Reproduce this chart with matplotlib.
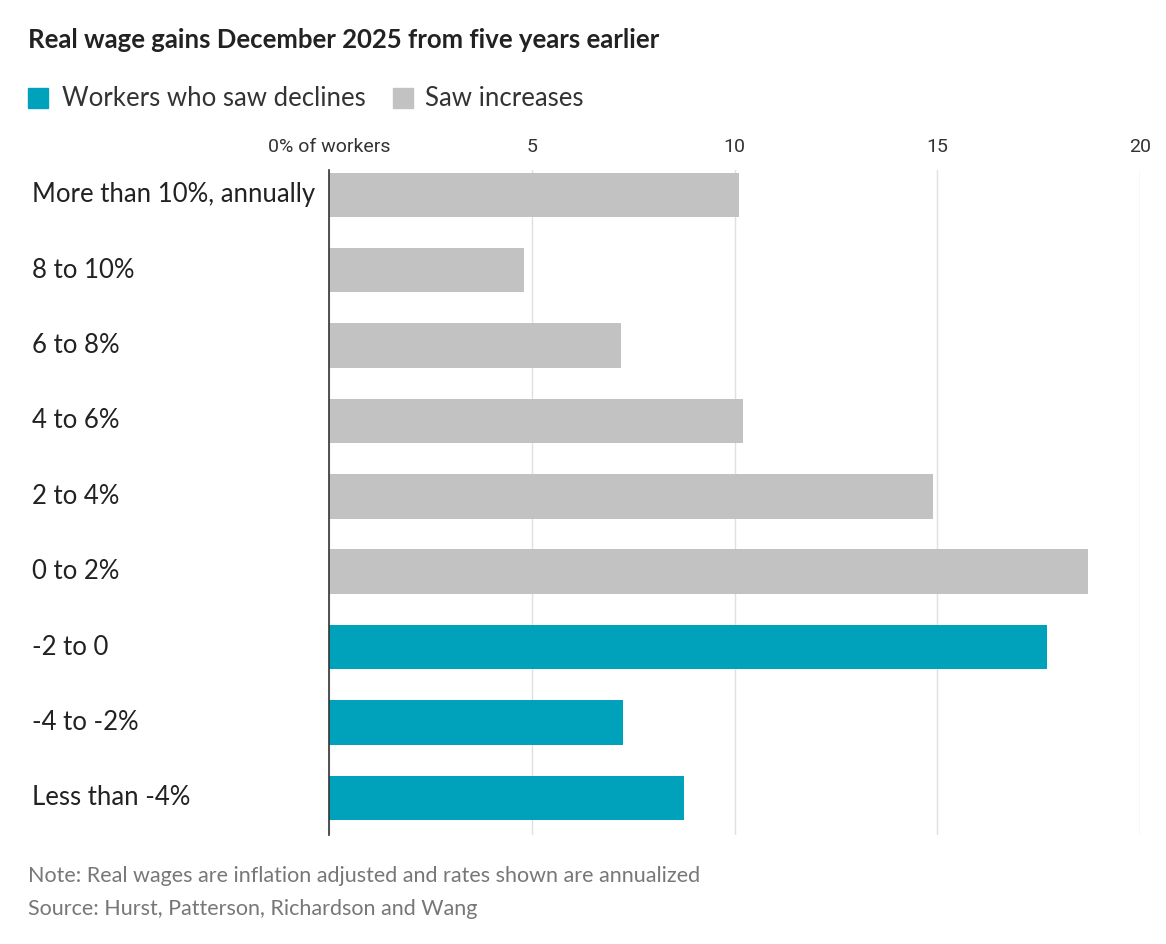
import matplotlib.pyplot as plt
from matplotlib.patches import Rectangle

categories = ["More than 10%, annually", "8 to 10%", "6 to 8%", "4 to 6%", "2 to 4%",
              "0 to 2%", "-2 to 0", "-4 to -2%", "Less than -4%"]
values = [10.1, 4.8, 7.2, 10.2, 14.9, 18.7, 17.7, 7.25, 8.75]
is_decline = [False] * 6 + [True] * 3
tick_vals = [0, 5, 10, 15, 20]
tick_labels = ["0% of workers", "5", "10", "15", "20"]

teal = "#00a2bb"
grey = "#c2c2c2"
plt.rcParams['font.family'] = ['Lato', 'DejaVu Sans']

fig = plt.figure(figsize=(11.66, 9.44), dpi=100)
ax = fig.add_axes([0.282, 0.115, 0.696, 0.705])

y = list(range(len(categories)))
colors = [teal if d else grey for d in is_decline]
ax.barh(y, values, height=0.59, color=colors, zorder=2)
ax.set_ylim(8.5, -0.33)
ax.set_xlim(0, 20)

ax.xaxis.tick_top()
ax.set_xticks(tick_vals)
ax.set_xticklabels(tick_labels, fontsize=14, color="#333333", family=['Roboto', 'DejaVu Sans'])
ax.tick_params(axis='x', length=0, pad=10)
ax.set_yticks([])
ax.grid(axis='x', color="#e0e0e0", linewidth=1, zorder=0)
for s in ["top", "right", "bottom"]:
    ax.spines[s].set_visible(False)
ax.spines["left"].set_color("#333333")
ax.spines["left"].set_linewidth(1.2)
ax.spines["left"].set_zorder(3)

# category labels, left-aligned at the figure edge
for yi, cat in zip(y, categories):
    ax.annotate(cat, xy=(0, yi), xycoords=('figure fraction', 'data'),
                xytext=(32, 0), textcoords='offset pixels',
                va='center', ha='left', fontsize=18.5, color="#222222")

fig.text(28 / 1166, 1 - 40 / 944, "Real wage gains December 2025 from five years earlier",
         fontsize=18.5, fontweight='bold', color="#222222", va='center')

# legend
fig.patches.append(Rectangle((28 / 1166, 1 - 108 / 944), 20 / 1166, 20 / 944,
                             transform=fig.transFigure, color=teal))
fig.text(62 / 1166, 1 - 99 / 944, "Workers who saw declines", fontsize=18.5,
         color="#333333", va='center')
fig.patches.append(Rectangle((393 / 1166, 1 - 108 / 944), 20 / 1166, 20 / 944,
                             transform=fig.transFigure, color=grey))
fig.text(425 / 1166, 1 - 99 / 944, "Saw increases", fontsize=18.5,
         color="#333333", va='center')

fig.text(28 / 1166, 1 - 876 / 944, "Note: Real wages are inflation adjusted and rates shown are annualized",
         fontsize=15.5, color="#777777", va='center')
fig.text(28 / 1166, 1 - 909 / 944, "Source: Hurst, Patterson, Richardson and Wang",
         fontsize=15.5, color="#777777", va='center')

fig.savefig("out.png", dpi=100, facecolor="white")
